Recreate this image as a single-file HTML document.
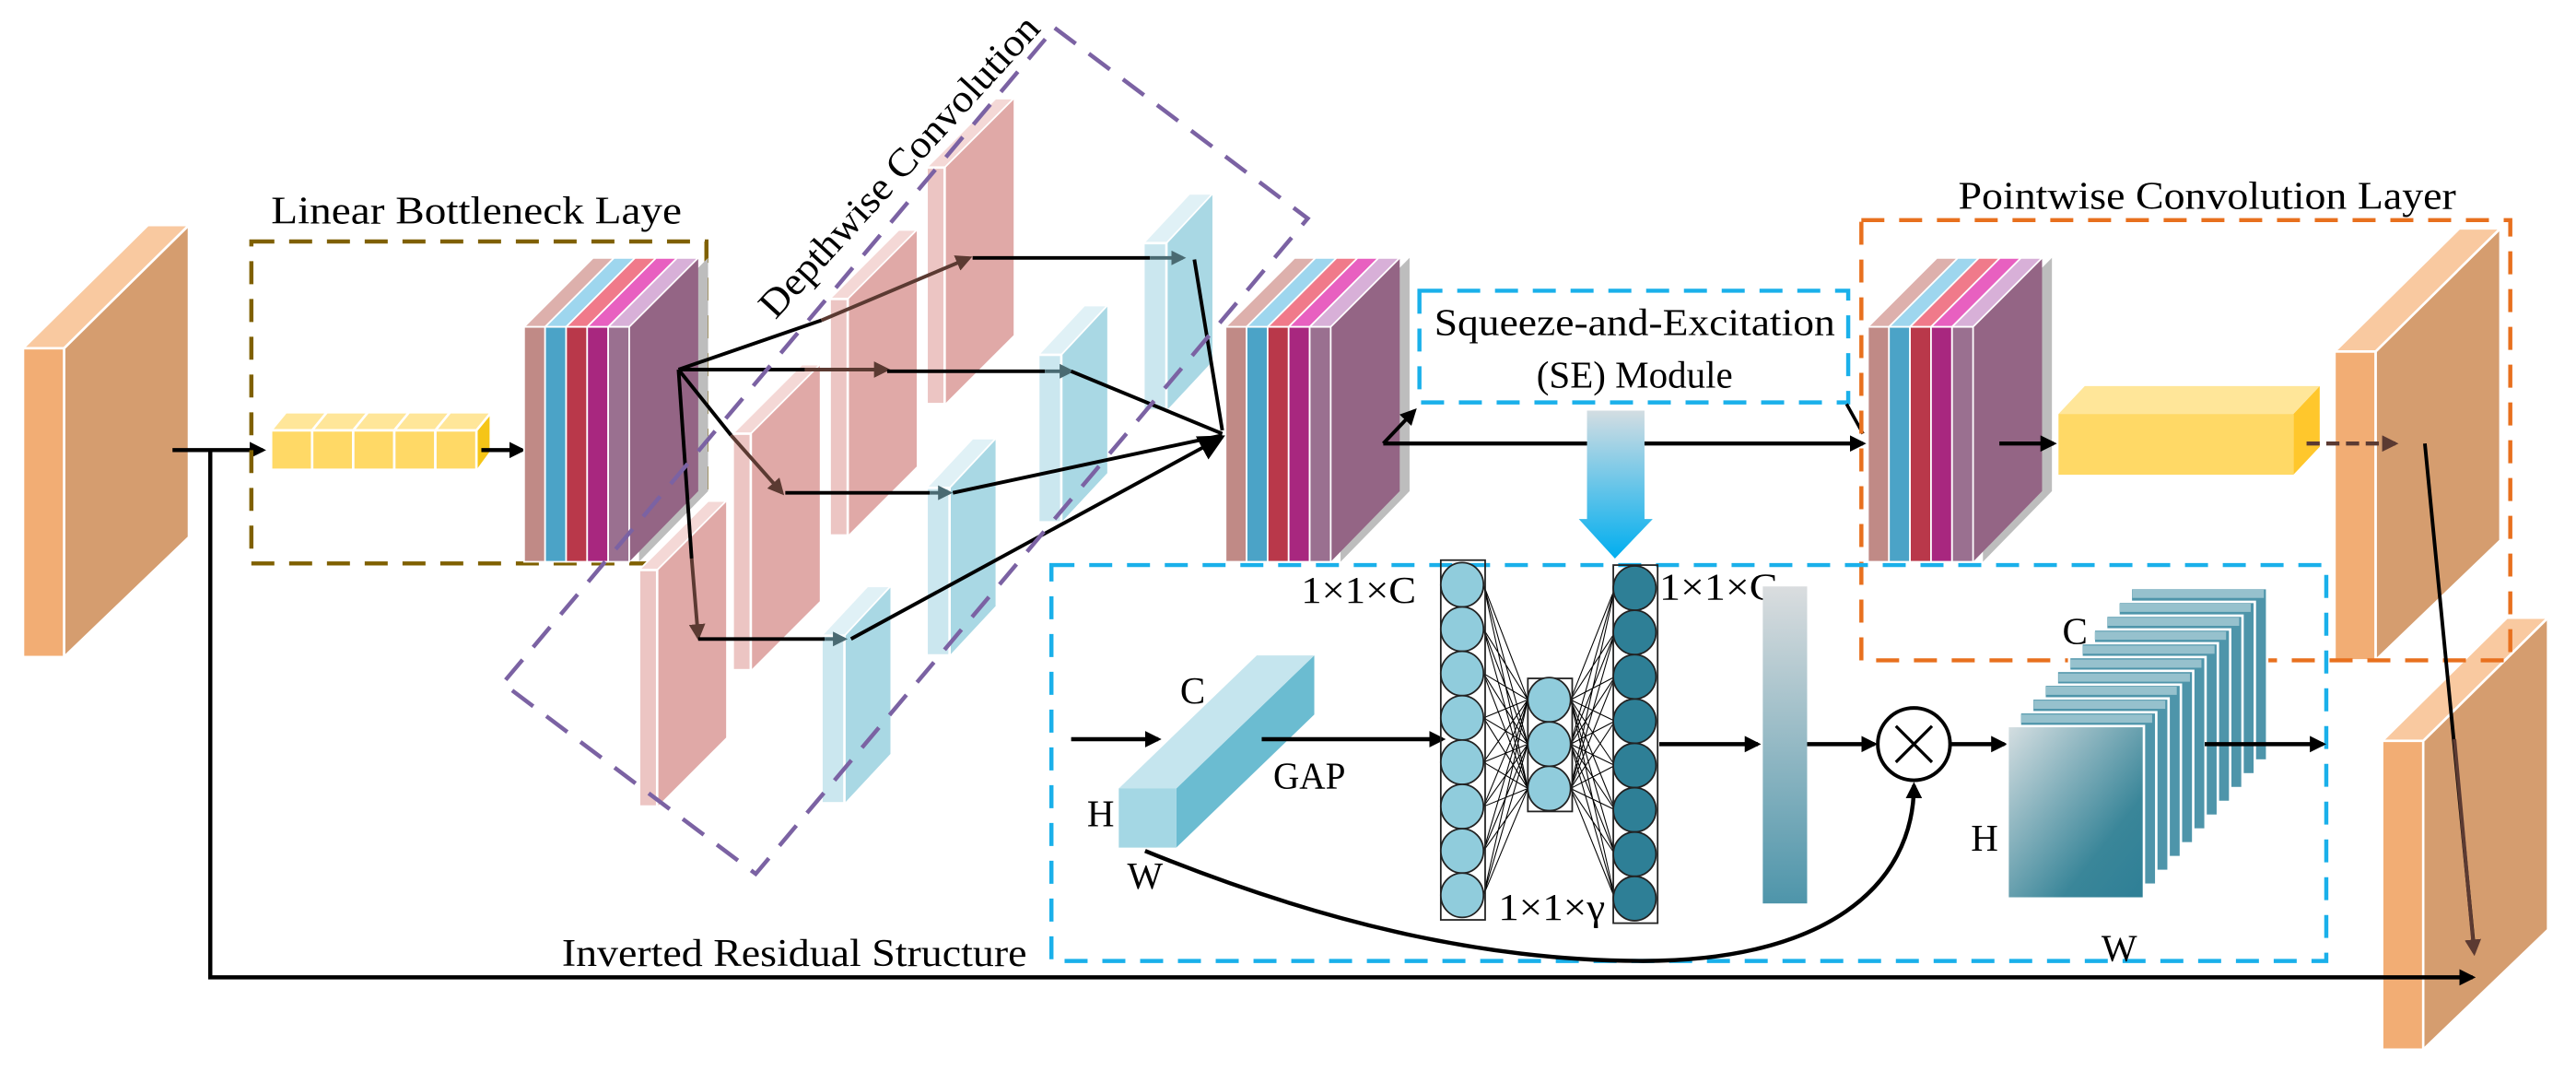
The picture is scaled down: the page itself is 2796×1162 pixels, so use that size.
<!DOCTYPE html>
<html><head><meta charset="utf-8"><style>
html,body{margin:0;padding:0;background:#fff;}
svg{display:block;}
svg text{font-family:"Liberation Serif","Times New Roman","DejaVu Serif",serif;fill:#000;}
</style></head><body>
<svg width="2796" height="1162" viewBox="0 0 1568 652" preserveAspectRatio="none" xmlns="http://www.w3.org/2000/svg">
<defs>
<marker id="ab" markerWidth="10" markerHeight="10" refX="8" refY="5" orient="auto" markerUnits="userSpaceOnUse"><path d="M0,0 L10,5 L0,10 z" fill="#000"/></marker>
<marker id="abb" markerWidth="16" markerHeight="16" refX="14" refY="8" orient="auto" markerUnits="userSpaceOnUse"><path d="M0,0 L16,8 L0,16 z" fill="#000"/></marker>
<marker id="ar" markerWidth="10" markerHeight="10" refX="8" refY="5" orient="auto" markerUnits="userSpaceOnUse"><path d="M0,0 L10,5 L0,10 z" fill="#5B3A32"/></marker>
<marker id="ag" markerWidth="9" markerHeight="9" refX="7" refY="4.5" orient="auto" markerUnits="userSpaceOnUse"><path d="M0,0 L9,4.5 L0,9 z" fill="#4A6A72"/></marker>
<linearGradient id="bigArrow" x1="0" y1="0" x2="0" y2="1"><stop offset="0" stop-color="#D3DDE2"/><stop offset="1" stop-color="#00AEEF"/></linearGradient>
<linearGradient id="bar" x1="0" y1="0" x2="0" y2="1"><stop offset="0" stop-color="#DADDDF"/><stop offset="1" stop-color="#4E95AA"/></linearGradient>
<linearGradient id="sl" x1="0" y1="0" x2="1" y2="1"><stop offset="0" stop-color="#D6DFE2"/><stop offset="0.7" stop-color="#3A8699"/><stop offset="1" stop-color="#2E7F96"/></linearGradient>
<g id="orange">
 <polygon points="39,212 115,137 115,327 39,400" fill="#D59D6F" stroke="#fff" stroke-width="1.5"/>
 <polygon points="14,212 90,137 115,137 39,212" fill="#F9C9A0" stroke="#fff" stroke-width="1.5"/>
 <rect x="14" y="212" width="25" height="188" fill="#F2AD74" stroke="#fff" stroke-width="1.5"/>
</g>
<g id="stack">
 <polygon points="70,0 112,-42 112,100 70,143" fill="#BDBDBD"/>
 <polygon points="64,0 106,-42 106,100 64,143" fill="#946585"/>
 <polygon points="0,0 42,-42 54.8,-42 12.8,0" fill="#DDB0AC" stroke="#fff"/>
 <polygon points="12.8,0 54.8,-42 67.6,-42 25.6,0" fill="#9ED6EE" stroke="#fff"/>
 <polygon points="25.6,0 67.6,-42 80.4,-42 38.4,0" fill="#F07A8A" stroke="#fff"/>
 <polygon points="38.4,0 80.4,-42 93.2,-42 51.2,0" fill="#E860C0" stroke="#fff"/>
 <polygon points="51.2,0 93.2,-42 106,-42 64,0" fill="#D8B0D8" stroke="#fff"/>
 <rect x="0" y="0" width="12.8" height="143" fill="#C08A86" stroke="#fff"/>
 <rect x="12.8" y="0" width="12.8" height="143" fill="#4BA3C7" stroke="#fff"/>
 <rect x="25.6" y="0" width="12.8" height="143" fill="#B9384A" stroke="#fff"/>
 <rect x="38.4" y="0" width="12.8" height="143" fill="#A8277F" stroke="#fff"/>
 <rect x="51.2" y="0" width="12.8" height="143" fill="#9A7090" stroke="#fff"/>
</g>
<g id="pink">
 <polygon points="11,0 53,-42 53,102 11,144" fill="#E0A9A7"/>
 <polygon points="0,0 42,-42 53,-42 11,0" fill="#F4D8D6" stroke="#fff"/>
 <rect x="0" y="0" width="11" height="144" fill="#ECC5C3" stroke="#fff" stroke-width="1.5"/>
</g>
<g id="blue">
 <polygon points="14,0 42,-30 42,72 14,102" fill="#A9D8E4"/>
 <polygon points="0,0 28,-30 42,-30 14,0" fill="#E0F1F6" stroke="#fff"/>
 <rect x="0" y="0" width="14" height="102" fill="#CBE7EF" stroke="#fff" stroke-width="1.5"/>
</g>
</defs>

<use href="#orange"/>
<use href="#orange" transform="translate(1407,2)"/>
<use href="#orange" transform="translate(1436,239)"/>

<polyline points="105,274 160,274" fill="none" stroke="#000" stroke-width="2.5" marker-end="url(#ab)"/>
<polyline points="128,274 128,595 1505,595" fill="none" stroke="#000" stroke-width="2.5" marker-end="url(#ab)"/>

<rect x="153" y="147" width="277" height="196" fill="none" stroke="#7F6000" stroke-width="2.5" stroke-dasharray="14,9"/>
<text x="165" y="136" font-size="24" textLength="250" lengthAdjust="spacingAndGlyphs">Linear Bottleneck Laye</text>

<polygon points="290,262 298,251 298,275 290,286" fill="#F5C518"/>
<g stroke="#fff" stroke-width="1.5">
<polygon points="165,262 174,251 199,251 190,262" fill="#FFE699"/>
<polygon points="190,262 199,251 224,251 215,262" fill="#FFE699"/>
<polygon points="215,262 224,251 249,251 240,262" fill="#FFE699"/>
<polygon points="240,262 249,251 274,251 265,262" fill="#FFE699"/>
<polygon points="265,262 274,251 299,251 290,262" fill="#FFE699"/>
<rect x="165" y="262" width="25" height="24" fill="#FFD966"/>
<rect x="190" y="262" width="25" height="24" fill="#FFD966"/>
<rect x="215" y="262" width="25" height="24" fill="#FFD966"/>
<rect x="240" y="262" width="25" height="24" fill="#FFD966"/>
<rect x="265" y="262" width="25" height="24" fill="#FFD966"/>
</g>
<line x1="293" y1="274" x2="318" y2="274" stroke="#000" stroke-width="2.5" marker-end="url(#ab)"/>

<use href="#stack" transform="translate(319,199)"/>
<use href="#stack" transform="translate(746,199)"/>
<use href="#stack" transform="translate(1137,199)"/>

<use href="#pink" transform="translate(564,102)"/>
<use href="#pink" transform="translate(505,182)"/>
<use href="#pink" transform="translate(446,264)"/>
<use href="#pink" transform="translate(389,347)"/>
<use href="#blue" transform="translate(696,148)"/>
<use href="#blue" transform="translate(632,216)"/>
<use href="#blue" transform="translate(564,297)"/>
<use href="#blue" transform="translate(500,387)"/>

<g stroke-width="2.2" fill="none">
<line x1="413" y1="225" x2="500" y2="195" stroke="#000"/>
<line x1="500" y1="195" x2="590" y2="157" stroke="#5B3A32" marker-end="url(#ar)"/>
<line x1="413" y1="225" x2="490" y2="225" stroke="#000"/>
<line x1="490" y1="225" x2="540" y2="225" stroke="#5B3A32" marker-end="url(#ar)"/>
<line x1="413" y1="225" x2="445" y2="265" stroke="#000"/>
<line x1="445" y1="265" x2="476" y2="300" stroke="#5B3A32" marker-end="url(#ar)"/>
<line x1="413" y1="225" x2="421" y2="340" stroke="#000"/>
<line x1="421" y1="340" x2="425" y2="388" stroke="#5B3A32" marker-end="url(#ar)"/>
<line x1="592" y1="157" x2="700" y2="157" stroke="#000"/>
<line x1="700" y1="157" x2="720" y2="157" stroke="#4A6A72" marker-end="url(#ag)"/>
<line x1="540" y1="226" x2="636" y2="226" stroke="#000"/>
<line x1="636" y1="226" x2="652" y2="226" stroke="#4A6A72" marker-end="url(#ag)"/>
<line x1="478" y1="300" x2="566" y2="300" stroke="#000"/>
<line x1="566" y1="300" x2="578" y2="300" stroke="#4A6A72" marker-end="url(#ag)"/>
<line x1="425" y1="389" x2="502" y2="389" stroke="#000"/>
<line x1="502" y1="389" x2="514" y2="389" stroke="#4A6A72" marker-end="url(#ag)"/>
<line x1="727" y1="158" x2="744" y2="262" stroke="#000"/>
<line x1="652" y1="226" x2="744" y2="264" stroke="#000"/>
<line x1="580" y1="300" x2="744" y2="265" stroke="#000"/>
<line x1="518" y1="389" x2="744" y2="266" stroke="#000" marker-end="url(#abb)"/>
</g>

<polygon points="642,17 796,133 460,532 306,416" fill="none" stroke="#7B62A3" stroke-width="2.5" stroke-dasharray="16,10"/>
<text x="0" y="0" font-size="24" transform="translate(472,195) rotate(-47.5)" textLength="240" lengthAdjust="spacingAndGlyphs">Depthwise Convolution</text>

<rect x="864" y="177" width="261" height="68" fill="none" stroke="#1AB0EA" stroke-width="2.5" stroke-dasharray="14,9"/>
<text x="873" y="204" font-size="23" textLength="244" lengthAdjust="spacingAndGlyphs">Squeeze-and-Excitation</text>
<text x="995" y="236" font-size="23" text-anchor="middle">(SE) Module</text>
<line x1="842" y1="270" x2="861" y2="250" stroke="#000" stroke-width="2.2" marker-end="url(#ab)"/>
<line x1="842" y1="270" x2="1134" y2="270" stroke="#000" stroke-width="2.5" marker-end="url(#ab)"/>
<line x1="1124" y1="246" x2="1134" y2="264" stroke="#000" stroke-width="2"/>

<polygon points="966,250 1001,250 1001,316 1006,316 983,340 961,316 966,316" fill="url(#bigArrow)"/>

<rect x="1133" y="134" width="395" height="268" fill="none" stroke="#E8701E" stroke-width="2.5" stroke-dasharray="14,9"/>
<text x="1192" y="127" font-size="24" textLength="303" lengthAdjust="spacingAndGlyphs">Pointwise Convolution Layer</text>
<line x1="1217" y1="270" x2="1250" y2="270" stroke="#000" stroke-width="2.5" marker-end="url(#ab)"/>
<polygon points="1396,252 1412,235 1412,272 1396,289" fill="#FFC72C"/>
<polygon points="1253,252 1269,235 1412,235 1396,252" fill="#FFE699"/>
<rect x="1253" y="252" width="143" height="37" fill="#FFD966"/>
<line x1="1404" y1="270" x2="1458" y2="270" stroke="#5B3A32" stroke-width="2.5" stroke-dasharray="8,4" marker-end="url(#ar)"/>
<line x1="1476" y1="270" x2="1506" y2="578" stroke="#000" stroke-width="2.2"/>
<line x1="1494" y1="450" x2="1506" y2="580" stroke="#5B3A32" stroke-width="2.2" marker-end="url(#ar)"/>

<rect x="640" y="344" width="776" height="241" fill="none" stroke="#1AB0EA" stroke-width="2.5" stroke-dasharray="14,9"/>
<text x="342" y="588" font-size="24" textLength="283" lengthAdjust="spacingAndGlyphs">Inverted Residual Structure</text>

<line x1="652" y1="450" x2="705" y2="450" stroke="#000" stroke-width="2.5" marker-end="url(#ab)"/>
<polygon points="716,480 800,399 800,435 716,516" fill="#6BBCD1"/>
<polygon points="681,480 765,399 800,399 716,480" fill="#C5E5EE"/>
<rect x="681" y="480" width="35" height="36" fill="#A4D7E4"/>
<text x="726" y="428" font-size="23" text-anchor="middle">C</text>
<text x="670" y="503" font-size="23" text-anchor="middle">H</text>
<text x="697" y="541" font-size="23" text-anchor="middle">W</text>
<text x="775" y="480" font-size="23" textLength="44" lengthAdjust="spacingAndGlyphs">GAP</text>
<line x1="768" y1="450" x2="878" y2="450" stroke="#000" stroke-width="2.5" marker-end="url(#ab)"/>

<g stroke="#000" stroke-width="0.6">
<path d="M903,356L930,426M903,356L930,453M903,356L930,480M903,383L930,426M903,383L930,453M903,383L930,480M903,410L930,426M903,410L930,453M903,410L930,480M903,437L930,426M903,437L930,453M903,437L930,480M903,464L930,426M903,464L930,453M903,464L930,480M903,491L930,426M903,491L930,453M903,491L930,480M903,518L930,426M903,518L930,453M903,518L930,480M903,545L930,426M903,545L930,453M903,545L930,480"/>
<path d="M956,426L983,358M956,426L983,385M956,426L983,412M956,426L983,439M956,426L983,466M956,426L983,493M956,426L983,520M956,426L983,547M956,453L983,358M956,453L983,385M956,453L983,412M956,453L983,439M956,453L983,466M956,453L983,493M956,453L983,520M956,453L983,547M956,480L983,358M956,480L983,385M956,480L983,412M956,480L983,439M956,480L983,466M956,480L983,493M956,480L983,520M956,480L983,547"/>
</g>
<g stroke="#222" stroke-width="1">
<rect x="877" y="341" width="27" height="219" fill="none"/>
<rect x="930" y="413" width="27" height="81" fill="none"/>
<rect x="982" y="344" width="27" height="218" fill="none"/>
<g fill="#90CCDC">
<ellipse cx="890" cy="356" rx="13" ry="13.5"/><ellipse cx="890" cy="383" rx="13" ry="13.5"/><ellipse cx="890" cy="410" rx="13" ry="13.5"/><ellipse cx="890" cy="437" rx="13" ry="13.5"/><ellipse cx="890" cy="464" rx="13" ry="13.5"/><ellipse cx="890" cy="491" rx="13" ry="13.5"/><ellipse cx="890" cy="518" rx="13" ry="13.5"/><ellipse cx="890" cy="545" rx="13" ry="13.5"/>
<ellipse cx="943" cy="426" rx="13" ry="13.5"/><ellipse cx="943" cy="453" rx="13" ry="13.5"/><ellipse cx="943" cy="480" rx="13" ry="13.5"/>
</g>
<g fill="#2E7F96">
<ellipse cx="995" cy="358" rx="13" ry="13.5"/><ellipse cx="995" cy="385" rx="13" ry="13.5"/><ellipse cx="995" cy="412" rx="13" ry="13.5"/><ellipse cx="995" cy="439" rx="13" ry="13.5"/><ellipse cx="995" cy="466" rx="13" ry="13.5"/><ellipse cx="995" cy="493" rx="13" ry="13.5"/><ellipse cx="995" cy="520" rx="13" ry="13.5"/><ellipse cx="995" cy="547" rx="13" ry="13.5"/>
</g>
</g>
<text x="792" y="367" font-size="23" textLength="70" lengthAdjust="spacingAndGlyphs">1×1×C</text>
<text x="1010" y="365" font-size="23" textLength="72" lengthAdjust="spacingAndGlyphs">1×1×C</text>
<text x="912" y="560" font-size="23" textLength="65" lengthAdjust="spacingAndGlyphs">1×1×γ</text>

<line x1="1010" y1="453" x2="1070" y2="453" stroke="#000" stroke-width="2.5" marker-end="url(#ab)"/>
<rect x="1073" y="357" width="27" height="193" fill="url(#bar)"/>
<line x1="1100" y1="453" x2="1141" y2="453" stroke="#000" stroke-width="2.5" marker-end="url(#ab)"/>
<circle cx="1165" cy="453" r="22" fill="#fff" stroke="#000" stroke-width="2.2"/>
<path d="M1154,442 L1176,464 M1176,442 L1154,464" stroke="#000" stroke-width="1.8"/>
<line x1="1187" y1="453" x2="1220" y2="453" stroke="#000" stroke-width="2.5" marker-end="url(#ab)"/>
<path d="M697,518 C800,560 900,585 1000,585 C1110,585 1165,540 1165,478" fill="none" stroke="#000" stroke-width="2.5" marker-end="url(#ab)"/>

<g stroke="#fff" stroke-width="1.5">
<rect x="1297" y="358" width="83" height="105" fill="#4E95AA"/>
<rect x="1289.5" y="366.4" width="83" height="105" fill="#4E95AA"/>
<rect x="1282" y="374.8" width="83" height="105" fill="#4E95AA"/>
<rect x="1274.5" y="383.2" width="83" height="105" fill="#4E95AA"/>
<rect x="1267" y="391.6" width="83" height="105" fill="#4E95AA"/>
<rect x="1259.5" y="400" width="83" height="105" fill="#4E95AA"/>
<rect x="1252" y="408.4" width="83" height="105" fill="#4E95AA"/>
<rect x="1244.5" y="416.8" width="83" height="105" fill="#4E95AA"/>
<rect x="1237" y="425.2" width="83" height="105" fill="#4E95AA"/>
<rect x="1229.5" y="433.6" width="83" height="105" fill="#4E95AA"/>
</g>
<g fill="#A9CCD6" opacity="0.8">
<rect x="1298" y="359" width="80" height="5"/><rect x="1290" y="367.5" width="80" height="5"/><rect x="1283" y="376" width="80" height="5"/><rect x="1275" y="384.5" width="80" height="5"/><rect x="1268" y="393" width="80" height="5"/><rect x="1260" y="401.5" width="80" height="5"/><rect x="1253" y="410" width="80" height="5"/><rect x="1245" y="418" width="80" height="5"/><rect x="1238" y="426.5" width="80" height="5"/><rect x="1230" y="435" width="80" height="5"/>
</g>
<rect x="1222" y="442" width="83" height="105" fill="url(#sl)" stroke="#fff" stroke-width="1.5"/>
<text x="1263" y="392" font-size="23" text-anchor="middle">C</text>
<text x="1208" y="518" font-size="23" text-anchor="middle">H</text>
<text x="1290" y="585" font-size="23" text-anchor="middle">W</text>
<line x1="1342" y1="453" x2="1414" y2="453" stroke="#000" stroke-width="2.5" marker-end="url(#ab)"/>
</svg>
</body></html>
